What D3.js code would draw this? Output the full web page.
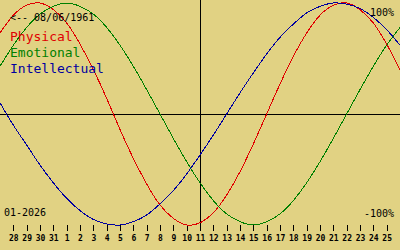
<!DOCTYPE html>
<html>
<head>
<meta charset="utf-8">
<script src="https://cdn.jsdelivr.net/npm/d3@7"></script>
<style>
  html, body { margin: 0; padding: 0; background: #e1d283; }
  svg { display: block; }
  text { font-family: "DejaVu Sans Mono", monospace; }
</style>
</head>
<body>
<div id="chart"></div>
<script>
// day labels, one per column (27 Dec .. 26 Jan)
const dayLabels = ['27','28','29','30','31','1','2','3','4','5','6','7','8','9','10',
  '11','12','13','14','15','16','17','18','19','20','21','22','23','24','25','26'];
const todayIndex = 15;

// values, -1 .. 1
const physical = [0.73, 0.89, 0.98, 1.00, 0.94, 0.82, 0.63, 0.40, 0.14, -0.14, -0.40,
  -0.63, -0.82, -0.94, -1.00, -0.98, -0.89, -0.73, -0.52, -0.27, 0.00, 0.27, 0.52,
  0.73, 0.89, 0.98, 1.00, 0.94, 0.82, 0.63, 0.40];
const emotional = [0.43, 0.62, 0.78, 0.90, 0.97, 1.00, 0.97, 0.90, 0.78, 0.62, 0.43,
  0.22, 0.00, -0.22, -0.43, -0.62, -0.78, -0.90, -0.97, -1.00, -0.97, -0.90, -0.78,
  -0.62, -0.43, -0.22, 0.00, 0.22, 0.43, 0.62, 0.78];
const intellectual = [0.10, -0.10, -0.28, -0.46, -0.62, -0.76, -0.87, -0.95, -0.99,
  -1.00, -0.97, -0.91, -0.81, -0.69, -0.54, -0.37, -0.19, 0.00, 0.19, 0.37, 0.54,
  0.69, 0.81, 0.91, 0.97, 1.00, 0.99, 0.95, 0.87, 0.76, 0.62];

const seriesNames = ['Physical', 'Emotional', 'Intellectual'];
const seriesColors = ['#e00000', '#008000', '#0000a0'];
const seriesData = [physical, emotional, intellectual];

const birthText = '<-- 08/06/1961';
const monthText = '01-2026';

const width = 400, height = 250;

const svg = d3.select('#chart')
  .append('svg')
  .attr('width', width)
  .attr('height', height);

const x = d3.scaleLinear().domain([0, dayLabels.length - 1]).range([0, width]);
const y = d3.scaleLinear().domain([-1, 1]).range([225, 3]);

// axes cross at today / zero
svg.append('line')
  .attr('x1', 0).attr('x2', width)
  .attr('y1', Math.round(y(0)) + 0.5).attr('y2', Math.round(y(0)) + 0.5)
  .attr('stroke', '#000');

svg.append('line')
  .attr('x1', Math.round(x(todayIndex)) + 0.5).attr('x2', Math.round(x(todayIndex)) + 0.5)
  .attr('y1', 0).attr('y2', 231)
  .attr('stroke', '#000');

// bottom ticks
const axis = d3.axisBottom(x)
  .tickValues(d3.range(1, dayLabels.length - 1))
  .tickFormat(i => dayLabels[i])
  .tickSize(6);

const gAxis = svg.append('g')
  .attr('transform', 'translate(0,225)')
  .call(axis);
gAxis.select('.domain').remove();
gAxis.selectAll('line').attr('stroke', '#000').attr('shape-rendering', 'crispEdges');
gAxis.selectAll('text')
  .attr('y', 16).attr('dy', 0)
  .attr('fill', '#000')
  .style('font-family', '"DejaVu Sans Mono", monospace')
  .style('font-size', '8px')
  .style('font-weight', 'bold');

// curves
const line = d3.line()
  .x((d, i) => x(i))
  .y(d => y(d))
  .curve(d3.curveNatural);

svg.selectAll('.curve')
  .data(seriesData)
  .enter().append('path')
  .attr('class', 'curve')
  .attr('d', d => line(d))
  .attr('fill', 'none')
  .attr('stroke', (d, i) => seriesColors[i])
  .attr('stroke-width', 1)
  .attr('shape-rendering', 'crispEdges');

// legend
svg.selectAll('.legend')
  .data(seriesNames)
  .enter().append('text')
  .attr('class', 'legend')
  .attr('x', 10)
  .attr('y', (d, i) => 41 + i * 16)
  .attr('fill', (d, i) => seriesColors[i])
  .style('font-size', '13px')
  .text(d => d);

// labels
svg.append('text')
  .attr('x', 10).attr('y', 20.5)
  .style('font-size', '10px')
  .text(birthText);

svg.append('text')
  .attr('x', 394).attr('y', 16)
  .attr('text-anchor', 'end')
  .style('font-size', '10px')
  .text('100%');

svg.append('text')
  .attr('x', 394).attr('y', 217)
  .attr('text-anchor', 'end')
  .style('font-size', '10px')
  .text('-100%');

svg.append('text')
  .attr('x', 4).attr('y', 216)
  .style('font-size', '10px')
  .text(monthText);
</script>
</body>
</html>
